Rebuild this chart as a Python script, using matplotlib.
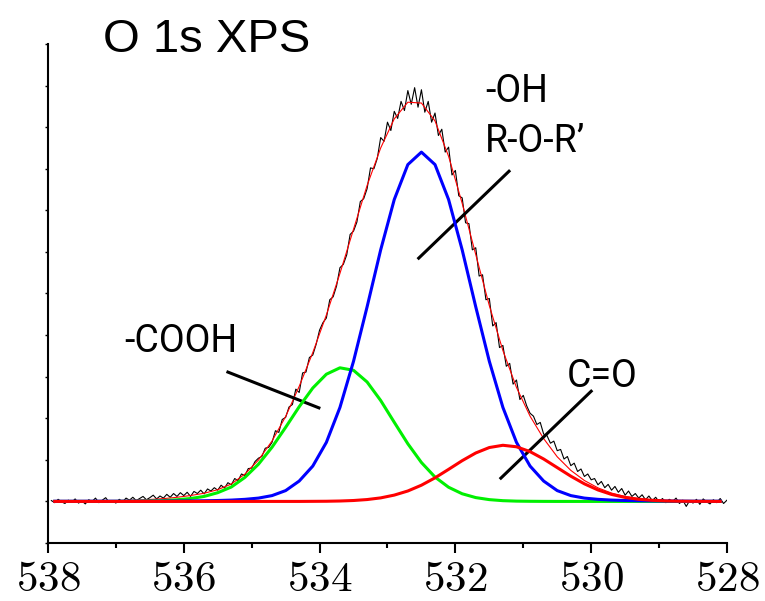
import numpy as np
import matplotlib
matplotlib.use("Agg")
import matplotlib.pyplot as plt

plt.rcParams['mathtext.fontset'] = 'cm'

# binding energy grids (eV), x axis runs high -> low
energy_fit = np.round(np.arange(537.9, 528.0, -0.2), 1)   # 537.9 ... 528.1
energy_raw = np.round(np.linspace(537.95, 528.0, 200), 2)  # 537.95 ... 528.00

background = 1.0

# fitted components (height above background, a.u.)
oh_ror = [0.004, 0.004, 0.004, 0.005, 0.005, 0.005, 0.005, 0.005, 0.007, 0.009,
          0.012, 0.016, 0.022, 0.032, 0.05, 0.08, 0.14, 0.26, 0.49, 0.85,
          1.42, 2.26, 3.37, 4.68, 6.05, 7.26, 8.10, 8.40, 8.10, 7.26,
          6.05, 4.68, 3.37, 2.26, 1.42, 0.85, 0.49, 0.26, 0.14, 0.08,
          0.05, 0.032, 0.022, 0.016, 0.012, 0.009, 0.007, 0.005, 0.005, 0.005]

cooh = [0.0, 0.0, 0.0, 0.0, 0.0, 0.003, 0.006, 0.012, 0.02, 0.04,
        0.07, 0.12, 0.21, 0.346, 0.577, 0.895, 1.304, 1.781, 2.277, 2.727,
        3.059, 3.213, 3.153, 2.872, 2.427, 1.903, 1.386, 0.936, 0.586, 0.341,
        0.184, 0.092, 0.043, 0.018, 0.007, 0.003, 0.001, 0.0, 0.0, 0.0,
        0.0, 0.0, 0.0, 0.0, 0.0, 0.0, 0.0, 0.0, 0.0, 0.0]

c_o = [0.0, 0.0, 0.0, 0.0, 0.0, 0.0, 0.0, 0.0, 0.0, 0.0,
       0.0, 0.0, 0.0, 0.0, 0.0, 0.0, 0.0, 0.0, 0.0, 0.002,
       0.004, 0.010, 0.022, 0.045, 0.085, 0.152, 0.251, 0.390, 0.567, 0.771,
       0.980, 1.165, 1.296, 1.350, 1.314, 1.197, 1.020, 0.813, 0.607, 0.423,
       0.276, 0.168, 0.096, 0.051, 0.026, 0.012, 0.005, 0.002, 0.001, 0.0]

# envelope of the fit
envelope = [1.004, 1.005, 1.006, 1.008, 1.012, 1.023, 1.031, 1.047, 1.067, 1.099,
            1.142, 1.196, 1.282, 1.418, 1.657, 1.995, 2.454, 3.041, 3.767, 4.579,
            5.483, 6.483, 7.545, 8.597, 9.50, 10.20, 10.60, 10.58, 10.15, 9.30,
            8.17, 6.937, 5.709, 4.628, 3.741, 3.05, 2.511, 2.073, 1.747, 1.503,
            1.326, 1.200, 1.118, 1.067, 1.038, 1.021, 1.012, 1.007, 1.006, 1.005]

# measured spectrum
counts_raw = [
    1.02, 0.97, 1.05, 0.99, 0.95, 1.03, 0.98, 1.06, 0.96, 1.01,
    0.94, 1.04, 1.00, 1.08, 0.97, 1.03, 1.09, 0.98, 1.02, 0.96,
    1.05, 0.99, 1.08, 1.03, 1.10, 1.02, 1.07, 1.12, 1.04, 1.09,
    1.15, 1.06, 1.13, 1.08, 1.17, 1.10, 1.19, 1.12, 1.21, 1.14,
    1.22, 1.12, 1.24, 1.19, 1.27, 1.18, 1.30, 1.25, 1.33, 1.27,
    1.39, 1.32, 1.45, 1.40, 1.55, 1.50, 1.66, 1.62, 1.79, 1.80,
    1.96, 2.04, 2.08, 2.28, 2.30, 2.42, 2.70, 2.66, 2.97, 3.02,
    3.27, 3.33, 3.70, 3.62, 4.09, 4.11, 4.46, 4.52, 4.78, 5.12,
    5.30, 5.41, 5.85, 5.92, 6.18, 6.62, 6.70, 6.93, 7.42, 7.50,
    7.72, 8.21, 8.28, 8.52, 9.02, 9.00, 9.25, 9.75, 9.66, 10.12,
    9.92, 10.38, 10.21, 10.62, 10.40, 10.88, 10.55, 10.95, 10.48, 10.90,
    10.36, 10.62, 10.12, 10.34, 9.80, 9.95, 9.40, 9.52, 8.85, 8.96,
    8.35, 8.30, 7.70, 7.68, 7.05, 7.10, 6.42, 6.45, 5.85, 5.88,
    5.22, 5.30, 4.70, 4.75, 4.25, 4.32, 3.82, 3.92, 3.45, 3.55,
    3.30, 3.12, 3.05, 2.85, 2.90, 2.62, 2.58, 2.40, 2.45, 2.22,
    2.25, 2.02, 2.08, 1.86, 1.92, 1.72, 1.78, 1.60, 1.66, 1.52,
    1.55, 1.40, 1.48, 1.33, 1.41, 1.27, 1.36, 1.22, 1.31, 1.15,
    1.25, 1.12, 1.19, 1.08, 1.16, 1.04, 1.13, 1.02, 1.10, 0.99,
    1.07, 0.97, 1.05, 1.00, 1.08, 0.95, 1.03, 0.88, 1.02, 0.96,
    1.05, 0.93, 1.06, 0.99, 0.94, 1.04, 0.97, 1.07, 0.95, 1.03,
]

xticks = [538, 536, 534, 532, 530, 528]

fig = plt.figure(figsize=(7.65, 6.01), dpi=100)
ax = fig.add_axes([0.0627, 0.0965, 0.8876, 0.8303])

ax.plot(energy_raw, counts_raw, color='black', lw=0.8, zorder=1)
ax.plot(energy_fit, envelope, color='red', lw=0.8, zorder=2)
ax.plot(energy_fit, background + np.array(cooh), color='#00f000', lw=2.2, zorder=3)
ax.plot(energy_fit, background + np.array(oh_ror), color='#0000ff', lw=2.2, zorder=4)
ax.plot(energy_fit, background + np.array(c_o), color='#ff0000', lw=2.2, zorder=5)

# labels with pointer lines
lab_font = dict(family='Roboto', fontsize=27, color='black')
ax.text(531.56, 10.60, '-OH', ha='left', va='baseline', **lab_font)
ax.text(531.56, 9.40, 'R-O-R\u2019', ha='left', va='baseline', **lab_font)
ax.plot([532.54, 531.21], [6.85, 8.94], color='black', lw=2.2)
ax.text(536.87, 4.59, '-COOH', ha='left', va='baseline', **lab_font)
ax.plot([535.35, 534.01], [4.11, 3.25], color='black', lw=2.2)
ax.text(530.36, 3.75, 'C=O', ha='left', va='baseline', **lab_font)
ax.plot([531.33, 530.00], [1.56, 3.65], color='black', lw=2.2)

fig.text(0.1346, 0.9135, 'O 1s XPS', family='Liberation Sans', fontsize=34,
         ha='left', va='baseline')

ax.set_xlim(538, 528)
ax.set_ylim(0, 12)
ax.set_xticks(xticks)
ax.set_xticklabels(['$%d$' % t for t in xticks], fontsize=31)
ax.set_xticks([537, 535, 533, 531, 529], minor=True)
ax.set_yticks(range(0, 13))
ax.set_yticklabels([])

for side in ['top', 'right']:
    ax.spines[side].set_visible(False)
for side in ['left', 'bottom']:
    ax.spines[side].set_linewidth(1.5)

ax.tick_params(axis='x', which='major', direction='out', length=7.5, width=1.5, pad=3)
ax.tick_params(axis='x', which='minor', direction='out', length=3.8, width=1.5)
ax.tick_params(axis='y', which='major', direction='out', length=2.2, width=1.0)

fig.savefig('out.png', dpi=100)
